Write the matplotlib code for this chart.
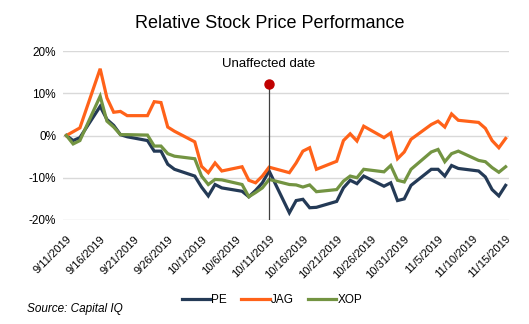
import datetime as dt

import matplotlib
matplotlib.use("Agg")
import matplotlib.pyplot as plt
import numpy as np

plt.rcParams["font.family"] = ["Liberation Sans", "DejaVu Sans"]

# trading days (Excel date axis, so weekends are just straight segments)
dates = ["9/11", "9/12", "9/13", "9/16", "9/17", "9/18", "9/19", "9/20",
         "9/23", "9/24", "9/25", "9/26", "9/27", "9/30", "10/1", "10/2",
         "10/3", "10/4", "10/7", "10/8", "10/9", "10/10", "10/11", "10/14",
         "10/15", "10/16", "10/17", "10/18", "10/21", "10/22", "10/23", "10/24",
         "10/25", "10/28", "10/29", "10/30", "10/31", "11/1", "11/4", "11/5",
         "11/6", "11/7", "11/8", "11/11", "11/12", "11/13", "11/14", "11/15"]

pe = [0.0, -1.2, -0.5, 6.9, 3.8, 2.4, 0.2, -0.3,
      -1.2, -3.7, -3.7, -6.8, -8.0, -9.6, -12.2, -14.3,
      -11.6, -12.4, -13.2, -14.5, -13.0, -11.2, -8.4, -18.3,
      -15.4, -15.1, -17.1, -17.0, -15.6, -12.4, -10.6, -11.4,
      -9.6, -12.0, -11.2, -15.4, -15.0, -11.8, -8.0, -8.0,
      -9.6, -7.1, -7.8, -8.4, -9.8, -12.8, -14.3, -11.8]

jag = [0.0, 0.9, 1.8, 15.8, 8.9, 5.5, 5.7, 4.7,
       4.7, 8.0, 7.8, 2.0, 1.0, -1.5, -7.3, -8.8,
       -6.5, -8.4, -7.4, -10.6, -11.2, -9.6, -7.5, -8.8,
       -6.5, -3.7, -2.9, -8.0, -6.1, -1.2, 0.4, -1.3,
       2.2, -0.5, 0.6, -5.5, -3.9, -0.9, 2.6, 3.4,
       2.0, 5.1, 3.6, 3.1, 1.7, -1.2, -2.9, -0.7]

xop = [0.0, -2.0, -1.2, 9.3, 3.4, 2.0, 0.2, 0.2,
       0.1, -2.5, -2.5, -4.3, -4.9, -5.5, -9.6, -11.6,
       -10.4, -10.5, -11.6, -14.5, -13.5, -12.4, -10.4, -11.6,
       -11.7, -12.2, -11.7, -13.3, -12.8, -10.8, -9.6, -10.0,
       -8.0, -8.6, -7.1, -10.6, -11.0, -8.0, -3.9, -3.3,
       -6.2, -4.3, -3.7, -5.9, -6.2, -7.6, -8.7, -7.4]

series = ["PE", "JAG", "XOP"]
colors = ["#243A56", "#FF6219", "#739442"]

unaffected = "10/11"

x = [dt.datetime.strptime(d + "/2019", "%m/%d/%Y") for d in dates]
ux = dt.datetime.strptime(unaffected + "/2019", "%m/%d/%Y")

# ----- figure -----
fig = plt.figure(figsize=(5.29, 3.24), dpi=100)
ax = fig.add_axes([63 / 529, 104 / 324, 446 / 529, 169 / 324])

for name, vals, c in zip(series, [pe, jag, xop], colors):
    ax.plot(x, np.array(vals) / 100, color=c, linewidth=2.3, label=name,
            solid_joinstyle="miter", zorder=3)

# unaffected date marker
ax.plot([ux, ux], [-0.20, 0.123], color="#404040", linewidth=0.9, zorder=4)
ax.plot([ux], [0.123], "o", color="#C00000", markersize=6.5, zorder=5)
ax.text(ux, 0.17, "Unaffected date", ha="center", va="center", fontsize=9.5)

ax.set_ylim(-0.20, 0.20)
ax.set_yticks([-0.2, -0.1, 0.0, 0.1, 0.2])
ax.yaxis.set_major_formatter(plt.FuncFormatter(lambda v, _: f"{v*100:.0f}%"))
ax.set_xlim(x[0] - dt.timedelta(hours=12), x[-1] + dt.timedelta(hours=12))

ticks = [x[0] + dt.timedelta(days=5 * i) for i in range(14)]
ax.set_xticks(ticks)
ax.set_xticklabels([f"{t.month}/{t.day}/{t.year}" for t in ticks],
                   rotation=45, ha="right", rotation_mode="anchor")

ax.grid(axis="y", color="#D9D9D9", linewidth=1)
ax.set_axisbelow(True)
for s in ax.spines.values():
    s.set_visible(False)
ax.tick_params(axis="both", length=0, colors="#000000")
ax.tick_params(axis="x", pad=10, labelsize=8)
ax.tick_params(axis="y", pad=5, labelsize=8.5)

fig.text(270 / 529, 1 - 24 / 324, "Relative Stock Price Performance",
         ha="center", va="center", fontsize=13)

fig.legend(loc="center", bbox_to_anchor=(272 / 529, 1 - 300 / 324), ncol=3,
           frameon=False, fontsize=8.5, handlelength=2.4, handletextpad=0.1,
           columnspacing=1.2)

fig.text(27 / 529, 1 - 309 / 324, "Source: Capital IQ", ha="left", va="center",
         fontsize=8.5, style="italic")

fig.savefig("out.png", dpi=100)
